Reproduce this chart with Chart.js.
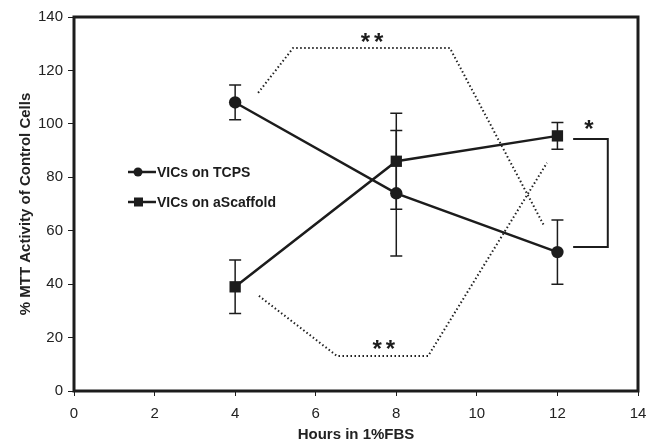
<!DOCTYPE html>
<html>
<head>
<meta charset="utf-8">
<script src="https://cdn.jsdelivr.net/npm/chart.js@4/dist/chart.umd.min.js"></script>
<style>
html,body{margin:0;padding:0;background:#fff;}
#wrap{width:648px;height:444px;position:relative;}
</style>
</head>
<body>
<div id="wrap"><canvas id="c" width="648" height="444"></canvas></div>
<script>
// ---- data ----
const hours = [4, 8, 12];
const tcpsMean = [108, 74, 52];
const tcpsErr = [6.5, 23.5, 12];
const scaffoldMean = [39, 86, 95.5];
const scaffoldErr = [10, 18, 5];
const seriesNames = ["VICs on TCPS", "VICs on aScaffold"];
const xTitle = "Hours in 1%FBS";
const yTitle = "% MTT Activity of Control Cells";
// significance annotations (data coordinates)
const upperDottedX = [4.57, 5.44, 9.33, 11.67];
const upperDottedY = [111.6, 128.4, 128.4, 61.8];
const lowerDottedX = [4.59, 6.53, 8.79, 11.74];
const lowerDottedY = [35.6, 13.1, 13.1, 85.4];
const bracketX = [12.39, 13.25, 13.25, 12.39];
const bracketY = [94.3, 94.3, 53.9, 53.9];
const starLabels = ["**", "**", "*"];
const starX = [7.40, 7.69, 12.83];
const starY = [132.0, 17.0, 99.6];

const INK = '#1c1c1c';
const FONT = '"Liberation Sans", Arial, sans-serif';

const xy = (xs, ys) => xs.map((x, i) => ({x: x, y: ys[i]}));

const errorBars = {
  id: 'errorBars',
  beforeDatasetsDraw(chart) {
    const ctx = chart.ctx, xs = chart.scales.x, ys = chart.scales.y;
    const sets = [[tcpsMean, tcpsErr], [scaffoldMean, scaffoldErr]];
    ctx.save();
    ctx.strokeStyle = INK;
    ctx.lineWidth = 1.5;
    sets.forEach(([m, e]) => {
      hours.forEach((h, i) => {
        const px = xs.getPixelForValue(h);
        const top = ys.getPixelForValue(m[i] + e[i]);
        const bot = ys.getPixelForValue(m[i] - e[i]);
        ctx.beginPath();
        ctx.moveTo(px, top); ctx.lineTo(px, bot);
        ctx.moveTo(px - 6, top); ctx.lineTo(px + 6, top);
        ctx.moveTo(px - 6, bot); ctx.lineTo(px + 6, bot);
        ctx.stroke();
      });
    });
    ctx.restore();
  }
};

const frameAndText = {
  id: 'frameAndText',
  afterDatasetsDraw(chart) {
    const ctx = chart.ctx, a = chart.chartArea, xs = chart.scales.x, ys = chart.scales.y;
    ctx.save();
    // frame
    ctx.strokeStyle = INK;
    ctx.lineWidth = 3;
    ctx.strokeRect(a.left, a.top, a.right - a.left, a.bottom - a.top);
    // stars
    ctx.fillStyle = INK;
    ctx.font = 'bold 24px ' + FONT;
    ctx.textAlign = 'center';
    ctx.textBaseline = 'middle';
    try { ctx.letterSpacing = '4px'; } catch (e) {}
    starLabels.forEach((s, i) => {
      ctx.fillText(s, xs.getPixelForValue(starX[i]) + (s.length > 1 ? 2 : 0), ys.getPixelForValue(starY[i]) + 5);
    });
    try { ctx.letterSpacing = '0px'; } catch (e) {}
    // legend
    const lx = a.left + 54, ly0 = a.top + 155, gap = 30;
    ctx.font = 'bold 14px ' + FONT;
    ctx.textAlign = 'left';
    ctx.lineWidth = 2.5;
    seriesNames.forEach((n, i) => {
      const y = ly0 + i * gap;
      ctx.beginPath(); ctx.moveTo(lx, y); ctx.lineTo(lx + 28, y); ctx.stroke();
      if (i === 0) { ctx.beginPath(); ctx.arc(lx + 10, y, 4.5, 0, Math.PI * 2); ctx.fill(); }
      else { ctx.fillRect(lx + 6, y - 4.5, 9, 9); }
      ctx.fillText(n, lx + 29, y + 1);
    });
    ctx.restore();
  }
};

new Chart(document.getElementById('c'), {
  type: 'line',
  data: {
    datasets: [
      { label: seriesNames[0], data: xy(hours, tcpsMean), borderColor: INK, backgroundColor: INK,
        borderWidth: 2.5, pointStyle: 'circle', pointRadius: 6.2, pointBorderWidth: 0 },
      { label: seriesNames[1], data: xy(hours, scaffoldMean), borderColor: INK, backgroundColor: INK,
        borderWidth: 2.5, pointStyle: 'rect', pointRadius: 8, pointBorderWidth: 0 },
      { label: 'upper', data: xy(upperDottedX, upperDottedY), borderColor: '#222', borderWidth: 2,
        borderDash: [1.5, 2.5], pointRadius: 0 },
      { label: 'lower', data: xy(lowerDottedX, lowerDottedY), borderColor: '#222', borderWidth: 2,
        borderDash: [1.5, 2.5], pointRadius: 0 },
      { label: 'bracket', data: xy(bracketX, bracketY), borderColor: INK, borderWidth: 2,
        pointRadius: 0 }
    ]
  },
  options: {
    responsive: false,
    animation: false,
    events: [],
    layout: { padding: { top: 17, right: 10, left: 17, bottom: 0 } },
    plugins: { legend: { display: false }, tooltip: { enabled: false } },
    scales: {
      x: {
        type: 'linear', min: 0, max: 14,
        afterFit(s) { s.height = 53; s.paddingRight = 0; s.paddingLeft = 0; },
        ticks: { stepSize: 2, color: '#222', font: { family: FONT, size: 15 }, padding: 9 },
        grid: { drawOnChartArea: false, color: INK, tickLength: 5, tickWidth: 1 },
        border: { display: false },
        title: { display: true, text: xTitle, color: '#222', font: { family: FONT, size: 15, weight: 'bold' }, padding: { top: 4, bottom: 0 } }
      },
      y: {
        min: 0, max: 140,
        afterFit(s) { s.width = 57; s.paddingTop = 0; s.paddingBottom = 0; },
        ticks: { stepSize: 20, color: '#222', font: { family: FONT, size: 15 }, padding: 5 },
        grid: { drawOnChartArea: false, color: INK, tickLength: 6, tickWidth: 1 },
        border: { display: false },
        title: { display: true, text: yTitle, color: '#222', font: { family: FONT, size: 15, weight: 'bold' }, padding: { top: 0, bottom: 4 } }
      }
    }
  },
  plugins: [errorBars, frameAndText]
});
</script>
</body>
</html>
